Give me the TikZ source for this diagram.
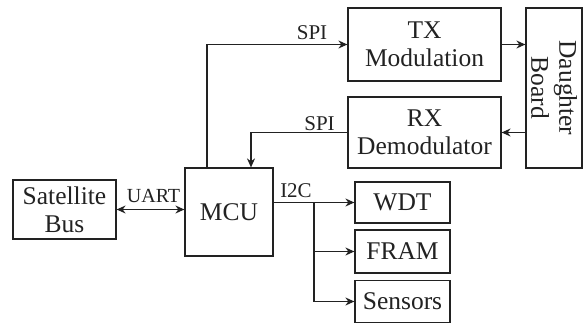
\documentclass[tikz,border=0pt]{standalone}
\usepackage{fontspec}
\setmainfont{Liberation Serif}
\usetikzlibrary{arrows.meta,calc}
\definecolor{ink}{HTML}{222222}
\tikzset{
  blk/.style={draw=ink, line width=1.2pt, text=ink, inner sep=0pt, align=center,
    font=\rmfamily\fontsize{25.5}{28}\selectfont},
  conn/.style={draw=ink, line width=1.1pt, -{Stealth[length=9pt,width=8pt]}},
  lbl/.style={text=ink, inner sep=0pt, font=\rmfamily\fontsize{21}{23}\selectfont}
}
\begin{document}
\begin{tikzpicture}[x=1pt,y=1pt]
\useasboundingbox (0,0) rectangle (583,324);
\node[blk, minimum width=103pt, minimum height=59pt] (sat) at (64.5,114.5) {Satellite\\Bus};
\node[blk, minimum width=88pt, minimum height=88pt] (mcu) at (229,112) {MCU};
\node[blk, minimum width=153pt, minimum height=73pt] (tx) at (424.5,279.5) {TX\\Modulation};
\node[blk, minimum width=153pt, minimum height=71pt] (rx) at (424.5,191.5) {RX\\Demodulator};
\node[blk, minimum width=160pt, minimum height=56pt, rotate=-90] (db) at (554,236) {Daughter\\Board};
\node[blk, minimum width=95pt, minimum height=41pt] (wdt) at (402.5,121.5) {WDT};
\node[blk, minimum width=95pt, minimum height=43pt] (fram) at (402.5,72.5) {FRAM};
\node[blk, minimum width=95pt, minimum height=42pt] (sens) at (402.5,22.5) {Sensors};

% UART
\draw[conn, {Stealth[length=9pt,width=8pt]}-{Stealth[length=9pt,width=8pt]}] (sat.east) -- (sat.east -| mcu.west);
\node[lbl, font=\rmfamily\fontsize{20}{22}\selectfont] (uart) at (153.5,128) {UART};

% SPI to TX
\coordinate (mtx) at ($(mcu.north)+(-22,0)$);
\draw[conn] (mtx) |- (tx.west);
\node[lbl] (spi1) at (312,291) {SPI};

% SPI from RX
\coordinate (mrx) at ($(mcu.north)+(22,0)$);
\draw[conn] (rx.west) -| (mrx);
\node[lbl] (spi2) at (319.5,200.5) {SPI};

% TX/RX <-> daughter board (rotated node: south anchor is its left side)
\draw[conn] (tx.east) -- (tx.east -| db.south);
\draw[conn] (rx.east -| db.south) -- (rx.east);

% I2C
\draw[conn] (mcu.east |- wdt.west) -- (wdt.west);
\coordinate (j) at (314,121.5);
\draw[conn] (j) |- (fram.west);
\draw[conn] (j) |- (sens.west);
\node[lbl] (i2c) at (296,133) {I2C};
\end{tikzpicture}
\end{document}
